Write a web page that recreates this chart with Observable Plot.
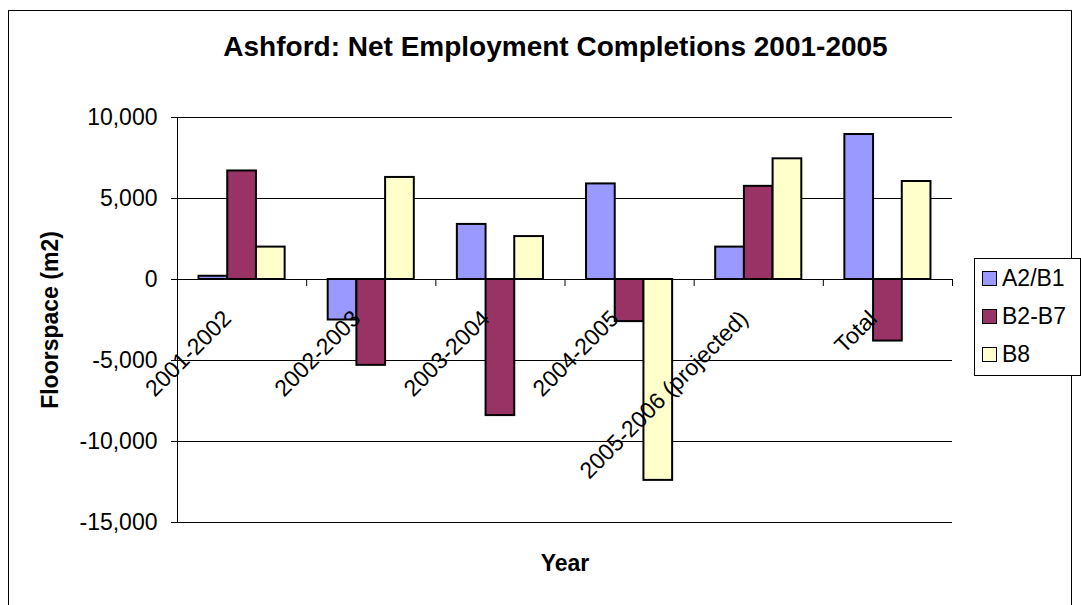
<!DOCTYPE html>
<html><head><meta charset="utf-8">
<script src="https://cdn.jsdelivr.net/npm/d3@7"></script>
<script src="https://cdn.jsdelivr.net/npm/@observablehq/plot@0.6"></script>
<style>
body{margin:0;background:#fff;font-family:"Liberation Sans",Arial,sans-serif;}
#wrap{position:relative;width:1081px;height:605px;overflow:hidden;background:#fff;}
#border{position:absolute;left:8px;top:10px;width:1064px;height:640px;border:1px solid #000;box-sizing:border-box;}
#chart{position:absolute;left:0;top:0;}
#legend{position:absolute;left:974px;top:258px;width:107px;border:1px solid #000;box-sizing:border-box;padding:0 0 2px 7px;background:#fff;white-space:nowrap;}
.row{height:38px;display:flex;align-items:center;font-size:23px;color:#000;}
.sw{width:13px;height:13px;border:1.5px solid #000;margin-right:5px;flex:none;}
</style></head><body>
<div id="wrap"><div id="border"></div><div id="chart"></div><div id="legend"></div></div>
<script>
const title = "Ashford: Net Employment Completions 2001-2005";
const xTitle = "Year";
const yTitle = "Floorspace (m2)";
const categories = ["2001-2002", "2002-2003", "2003-2004", "2004-2005", "2005-2006 (projected)", "Total"];
const seriesNames = ["A2/B1", "B2-B7", "B8"];
const a2b1 = [200, -2500, 3400, 5900, 2000, 8950];
const b2b7 = [6700, -5300, -8400, -2600, 5750, -3800];
const b8 = [2000, 6300, 2650, -12400, 7450, 6050];
const seriesColors = ["#9999FF", "#993366", "#FFFFCC"];
const yTicks = [-15000, -10000, -5000, 0, 5000, 10000];

const seriesValues = [a2b1, b2b7, b8];
const table = categories.flatMap((c, i) => seriesNames.map((s, j) => ({cat: c, i, series: s, j, value: seriesValues[j][i]})));

// Excel-style clustered columns: gap width 150%
const gap = 1.5;
const slots = seriesNames.length + gap;
const boundaries = d3.range(1, categories.length + 1);

const chart = Plot.plot({
  width: 1081,
  height: 605,
  marginLeft: 177,
  marginRight: 129,
  marginTop: 117,
  marginBottom: 83,
  style: {fontFamily: "'Liberation Sans', Arial, sans-serif", fontSize: "23px", color: "#000", background: "transparent"},
  x: {domain: [0, categories.length], axis: null},
  y: {domain: [-15000, 10000], axis: null},
  color: {domain: seriesNames, range: seriesColors},
  marks: [
    Plot.ruleY(yTicks, {stroke: "#000", strokeWidth: 1}),
    Plot.ruleX([0], {stroke: "#000", strokeWidth: 1}),
    Plot.ruleX(boundaries, {x: d => d, y1: 0, y2: 0, insetBottom: -7, stroke: "#000"}),
    Plot.axisY({ticks: yTicks, tickFormat: d => d.toLocaleString("en-US"), tickSize: 6, tickPadding: 14, fontSize: 23, label: null}),
    Plot.rect(table, {
      x1: d => d.i + (gap / 2 + d.j) / slots,
      x2: d => d.i + (gap / 2 + d.j + 1) / slots,
      y1: 0,
      y2: "value",
      fill: "series",
      stroke: "#000",
      strokeWidth: 2
    }),
    Plot.text(categories, {x: (d, i) => i + 0.5, y: 0, text: d => d, rotate: -45, textAnchor: "end", lineAnchor: "top", dx: -21, dy: 29, fontSize: 23}),
    Plot.text([yTitle], {frameAnchor: "left", rotate: -90, dx: -127, textAnchor: "middle", fontWeight: "bold", fontSize: 23, lineAnchor: "middle"}),
    Plot.text([xTitle], {frameAnchor: "bottom", dy: 41, textAnchor: "middle", fontWeight: "bold", fontSize: 23, lineAnchor: "middle"}),
    Plot.text([title], {frameAnchor: "top", dy: -70, dx: -9.5, textAnchor: "middle", fontWeight: "bold", fontSize: 28, lineAnchor: "middle"})
  ]
});
document.getElementById("chart").appendChild(chart);

const legend = document.getElementById("legend");
seriesNames.forEach((s, j) => {
  const row = document.createElement("div");
  row.className = "row";
  const sw = document.createElement("span");
  sw.className = "sw";
  sw.style.background = seriesColors[j];
  const t = document.createElement("span");
  t.textContent = s;
  row.appendChild(sw);
  row.appendChild(t);
  legend.appendChild(row);
});
</script>
</body></html>
